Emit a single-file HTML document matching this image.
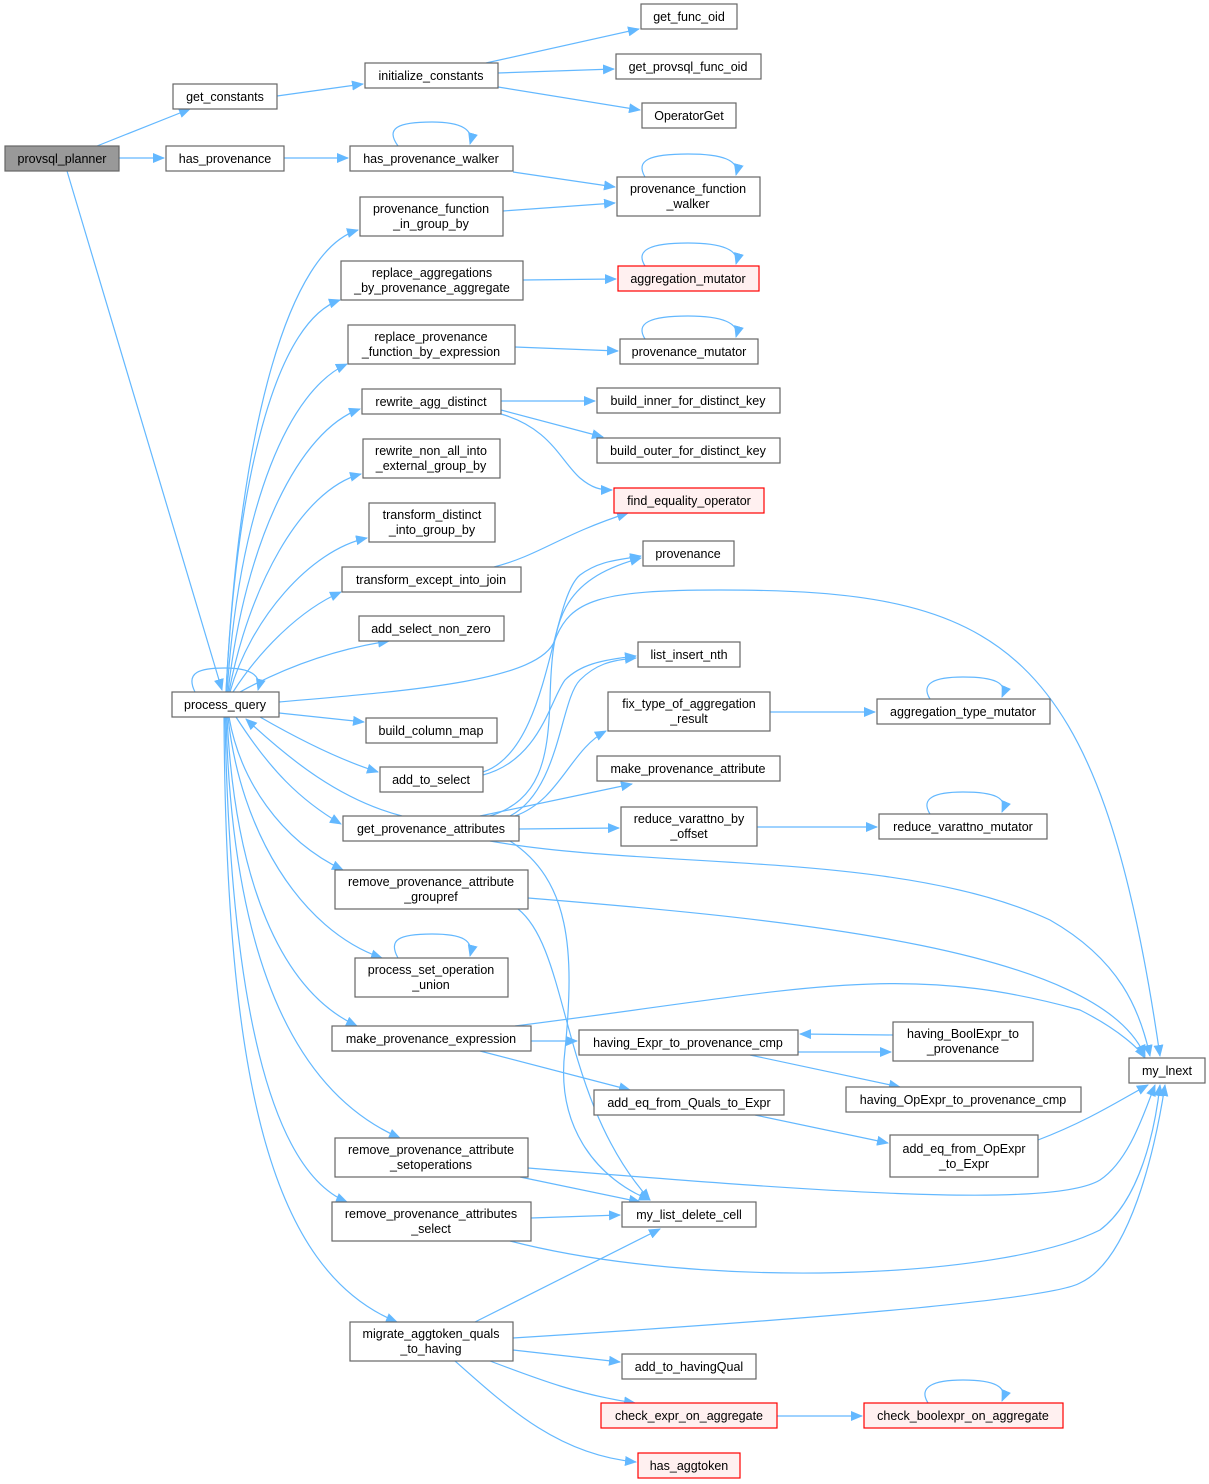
<!DOCTYPE html>
<html><head><meta charset="utf-8"><style>
html,body{margin:0;padding:0;background:#fff;}
svg{display:block;}
text{font-family:"Liberation Sans",Arial,sans-serif;font-size:12.5px;fill:#000;}
.n{fill:#fff;stroke:#666;stroke-width:1.2;}
.r{fill:#fff0f0;stroke:#f00;stroke-width:1.2;}
.g{fill:#999;stroke:#666;stroke-width:1.2;}
.e{fill:none;stroke:#63b8ff;stroke-width:1.2;marker-end:url(#a);}
</style></head><body>
<svg width="1209" height="1484" viewBox="0 0 1209 1484" xmlns="http://www.w3.org/2000/svg">
<defs><marker id="a" markerWidth="12" markerHeight="10" refX="11" refY="5" orient="auto" markerUnits="userSpaceOnUse"><path d="M0,0 L12,5 L0,10 z" fill="#63b8ff"/></marker></defs>
<g>
<path class="e" d="M97,146 L190,109"/>
<path class="e" d="M119,158 L164,158"/>
<path class="e" d="M67,171 L222,690"/>
<path class="e" d="M277,96 L363,84"/>
<path class="e" d="M486,63 L639,29"/>
<path class="e" d="M498,73 L614,69"/>
<path class="e" d="M498,87 L640,110"/>
<path class="e" d="M284,158 L348,158"/>
<path class="e" d="M398,146 C385,128 398,122 432,122 C462,122 474,130 470,144"/>
<path class="e" d="M513,172 L615,187"/>
<path class="e" d="M645,177 C635,160 650,154 688,154 C722,154 740,160 736,175"/>
<path class="e" d="M503,211 L615,203"/>
<path class="e" d="M523,280 L616,279"/>
<path class="e" d="M645,266 C635,250 650,243 688,243 C722,243 740,250 736,264"/>
<path class="e" d="M515,347 L618,351"/>
<path class="e" d="M645,339 C635,323 650,316 688,316 C722,316 740,323 736,337"/>
<path class="e" d="M501,401 L595,401"/>
<path class="e" d="M501,410 L603,437"/>
<path class="e" d="M501,414 C550,428 560,460 580,478 C592,488 600,490 612,490"/>
<path class="e" d="M494,567 C540,555 560,535 628,513"/>
<path class="e" d="M195,692 C185,672 200,668 225,668 C250,668 262,675 258,690"/>
<path class="e" d="M226,692 C240,420 290,250 358,230"/>
<path class="e" d="M226,692 C238,460 280,320 340,300"/>
<path class="e" d="M227,692 C240,500 290,390 347,364"/>
<path class="e" d="M228,692 C245,540 300,430 360,409"/>
<path class="e" d="M229,692 C248,590 300,490 361,474"/>
<path class="e" d="M230,692 C250,620 310,550 367,538"/>
<path class="e" d="M233,692 C260,650 300,610 341,592"/>
<path class="e" d="M240,692 C280,670 330,650 389,641"/>
<path class="e" d="M279,702 C420,690 540,680 555,640 C570,600 600,590 720,590 C1000,590 1100,640 1160,1056"/>
<path class="e" d="M279,713 L364,722"/>
<path class="e" d="M260,717 C300,740 340,760 378,772"/>
<path class="e" d="M236,717 C270,770 300,800 341,824"/>
<path class="e" d="M402,816 C340,800 290,760 246,719"/>
<path class="e" d="M229,717 C240,780 280,840 343,870"/>
<path class="e" d="M228,717 C240,830 300,930 382,958"/>
<path class="e" d="M227,717 C235,880 280,990 357,1026"/>
<path class="e" d="M226,717 C232,950 290,1090 400,1138"/>
<path class="e" d="M225,717 C230,1000 270,1170 347,1202"/>
<path class="e" d="M224,717 C226,1080 270,1270 397,1322"/>
<path class="e" d="M483,775 C540,760 550,700 565,680 C580,665 600,660 636,656"/>
<path class="e" d="M483,772 C550,750 550,600 580,575 C600,560 620,560 641,556"/>
<path class="e" d="M490,816 C540,800 548,760 550,700 C552,620 560,580 641,558"/>
<path class="e" d="M510,816 C560,790 560,700 580,680 C595,665 610,660 636,658"/>
<path class="e" d="M515,816 C560,800 570,750 606,731"/>
<path class="e" d="M480,816 L632,784"/>
<path class="e" d="M519,829 L619,828"/>
<path class="e" d="M490,841 C650,870 900,850 1050,920 C1120,960 1140,1010 1150,1056"/>
<path class="e" d="M510,841 C570,880 575,950 565,1050 C555,1130 600,1180 650,1200"/>
<path class="e" d="M770,712 L875,712"/>
<path class="e" d="M757,827 L877,827"/>
<path class="e" d="M930,699 C920,683 935,677 963,677 C995,677 1008,683 1002,697"/>
<path class="e" d="M930,814 C920,798 935,792 963,792 C995,792 1008,798 1002,812"/>
<path class="e" d="M398,958 C388,940 398,934 432,934 C462,934 474,940 470,956"/>
<path class="e" d="M528,898 C800,920 1100,950 1145,1056"/>
<path class="e" d="M518,909 C570,950 560,1100 650,1200"/>
<path class="e" d="M531,1041 L577,1041"/>
<path class="e" d="M480,1051 L630,1090"/>
<path class="e" d="M515,1026 C800,990 900,960 1080,1010 C1120,1030 1140,1050 1145,1058"/>
<path class="e" d="M798,1052 L891,1052"/>
<path class="e" d="M893,1035 L800,1034"/>
<path class="e" d="M750,1055 L900,1087"/>
<path class="e" d="M755,1115 L888,1143"/>
<path class="e" d="M1038,1140 C1090,1120 1120,1100 1148,1085"/>
<path class="e" d="M528,1168 C800,1190 1050,1210 1100,1180 C1130,1160 1145,1110 1155,1085"/>
<path class="e" d="M520,1177 L640,1202"/>
<path class="e" d="M531,1218 L620,1215"/>
<path class="e" d="M510,1241 C700,1290 1000,1280 1100,1230 C1140,1200 1155,1130 1160,1085"/>
<path class="e" d="M475,1322 L660,1229"/>
<path class="e" d="M513,1338 C800,1320 1050,1300 1080,1283 C1130,1260 1155,1150 1165,1085"/>
<path class="e" d="M513,1350 L620,1362"/>
<path class="e" d="M490,1361 C540,1380 580,1395 635,1403"/>
<path class="e" d="M455,1361 C510,1410 560,1455 636,1462"/>
<path class="e" d="M777,1416 L862,1416"/>
<path class="e" d="M928,1403 C918,1387 933,1380 963,1380 C995,1380 1008,1387 1002,1401"/>
</g>
<g>
<rect class="g" x="5" y="146" width="114" height="25"/><text x="62" y="163" text-anchor="middle">provsql_planner</text>
<rect class="n" x="173" y="84" width="104" height="25"/><text x="225" y="101" text-anchor="middle">get_constants</text>
<rect class="n" x="166" y="146" width="118" height="25"/><text x="225" y="163" text-anchor="middle">has_provenance</text>
<rect class="n" x="172" y="692" width="107" height="25"/><text x="225" y="709" text-anchor="middle">process_query</text>
<rect class="n" x="365" y="63" width="133" height="25"/><text x="431" y="80" text-anchor="middle">initialize_constants</text>
<rect class="n" x="350" y="146" width="163" height="25"/><text x="431" y="163" text-anchor="middle">has_provenance_walker</text>
<rect class="n" x="360" y="197" width="143" height="39"/><text x="431" y="213" text-anchor="middle">provenance_function</text><text x="431" y="228" text-anchor="middle">_in_group_by</text>
<rect class="n" x="341" y="261" width="182" height="39"/><text x="432" y="277" text-anchor="middle">replace_aggregations</text><text x="432" y="292" text-anchor="middle">_by_provenance_aggregate</text>
<rect class="n" x="348" y="325" width="167" height="39"/><text x="431" y="341" text-anchor="middle">replace_provenance</text><text x="431" y="356" text-anchor="middle">_function_by_expression</text>
<rect class="n" x="362" y="389" width="139" height="25"/><text x="431" y="406" text-anchor="middle">rewrite_agg_distinct</text>
<rect class="n" x="363" y="439" width="137" height="39"/><text x="431" y="455" text-anchor="middle">rewrite_non_all_into</text><text x="431" y="470" text-anchor="middle">_external_group_by</text>
<rect class="n" x="369" y="503" width="126" height="39"/><text x="432" y="519" text-anchor="middle">transform_distinct</text><text x="432" y="534" text-anchor="middle">_into_group_by</text>
<rect class="n" x="342" y="567" width="179" height="25"/><text x="431" y="584" text-anchor="middle">transform_except_into_join</text>
<rect class="n" x="359" y="616" width="145" height="25"/><text x="431" y="633" text-anchor="middle">add_select_non_zero</text>
<rect class="n" x="366" y="718" width="131" height="25"/><text x="431" y="735" text-anchor="middle">build_column_map</text>
<rect class="n" x="380" y="767" width="103" height="25"/><text x="431" y="784" text-anchor="middle">add_to_select</text>
<rect class="n" x="343" y="816" width="176" height="25"/><text x="431" y="833" text-anchor="middle">get_provenance_attributes</text>
<rect class="n" x="335" y="870" width="193" height="39"/><text x="431" y="886" text-anchor="middle">remove_provenance_attribute</text><text x="431" y="901" text-anchor="middle">_groupref</text>
<rect class="n" x="355" y="958" width="153" height="39"/><text x="431" y="974" text-anchor="middle">process_set_operation</text><text x="431" y="989" text-anchor="middle">_union</text>
<rect class="n" x="332" y="1026" width="199" height="25"/><text x="431" y="1043" text-anchor="middle">make_provenance_expression</text>
<rect class="n" x="335" y="1138" width="193" height="39"/><text x="431" y="1154" text-anchor="middle">remove_provenance_attribute</text><text x="431" y="1169" text-anchor="middle">_setoperations</text>
<rect class="n" x="332" y="1202" width="199" height="39"/><text x="431" y="1218" text-anchor="middle">remove_provenance_attributes</text><text x="431" y="1233" text-anchor="middle">_select</text>
<rect class="n" x="350" y="1322" width="163" height="39"/><text x="431" y="1338" text-anchor="middle">migrate_aggtoken_quals</text><text x="431" y="1353" text-anchor="middle">_to_having</text>
<rect class="n" x="641" y="4" width="96" height="25"/><text x="689" y="21" text-anchor="middle">get_func_oid</text>
<rect class="n" x="616" y="54" width="145" height="25"/><text x="688" y="71" text-anchor="middle">get_provsql_func_oid</text>
<rect class="n" x="642" y="103" width="94" height="25"/><text x="689" y="120" text-anchor="middle">OperatorGet</text>
<rect class="n" x="617" y="177" width="143" height="39"/><text x="688" y="193" text-anchor="middle">provenance_function</text><text x="688" y="208" text-anchor="middle">_walker</text>
<rect class="r" x="618" y="266" width="141" height="25"/><text x="688" y="283" text-anchor="middle">aggregation_mutator</text>
<rect class="n" x="620" y="339" width="138" height="25"/><text x="689" y="356" text-anchor="middle">provenance_mutator</text>
<rect class="n" x="597" y="388" width="183" height="25"/><text x="688" y="405" text-anchor="middle">build_inner_for_distinct_key</text>
<rect class="n" x="597" y="438" width="183" height="25"/><text x="688" y="455" text-anchor="middle">build_outer_for_distinct_key</text>
<rect class="r" x="614" y="488" width="150" height="25"/><text x="689" y="505" text-anchor="middle">find_equality_operator</text>
<rect class="n" x="643" y="541" width="91" height="25"/><text x="688" y="558" text-anchor="middle">provenance</text>
<rect class="n" x="638" y="642" width="102" height="25"/><text x="689" y="659" text-anchor="middle">list_insert_nth</text>
<rect class="n" x="608" y="692" width="162" height="39"/><text x="689" y="708" text-anchor="middle">fix_type_of_aggregation</text><text x="689" y="723" text-anchor="middle">_result</text>
<rect class="n" x="597" y="756" width="183" height="25"/><text x="688" y="773" text-anchor="middle">make_provenance_attribute</text>
<rect class="n" x="621" y="807" width="136" height="39"/><text x="689" y="823" text-anchor="middle">reduce_varattno_by</text><text x="689" y="838" text-anchor="middle">_offset</text>
<rect class="n" x="579" y="1030" width="219" height="25"/><text x="688" y="1047" text-anchor="middle">having_Expr_to_provenance_cmp</text>
<rect class="n" x="594" y="1090" width="190" height="25"/><text x="689" y="1107" text-anchor="middle">add_eq_from_Quals_to_Expr</text>
<rect class="n" x="622" y="1202" width="134" height="25"/><text x="689" y="1219" text-anchor="middle">my_list_delete_cell</text>
<rect class="n" x="622" y="1354" width="134" height="25"/><text x="689" y="1371" text-anchor="middle">add_to_havingQual</text>
<rect class="r" x="601" y="1403" width="176" height="25"/><text x="689" y="1420" text-anchor="middle">check_expr_on_aggregate</text>
<rect class="r" x="638" y="1453" width="102" height="25"/><text x="689" y="1470" text-anchor="middle">has_aggtoken</text>
<rect class="n" x="877" y="699" width="173" height="25"/><text x="963" y="716" text-anchor="middle">aggregation_type_mutator</text>
<rect class="n" x="879" y="814" width="168" height="25"/><text x="963" y="831" text-anchor="middle">reduce_varattno_mutator</text>
<rect class="n" x="893" y="1022" width="140" height="39"/><text x="963" y="1038" text-anchor="middle">having_BoolExpr_to</text><text x="963" y="1053" text-anchor="middle">_provenance</text>
<rect class="n" x="846" y="1087" width="235" height="25"/><text x="963" y="1104" text-anchor="middle">having_OpExpr_to_provenance_cmp</text>
<rect class="n" x="890" y="1135" width="148" height="42"/><text x="964" y="1153" text-anchor="middle">add_eq_from_OpExpr</text><text x="964" y="1168" text-anchor="middle">_to_Expr</text>
<rect class="r" x="864" y="1403" width="199" height="25"/><text x="963" y="1420" text-anchor="middle">check_boolexpr_on_aggregate</text>
<rect class="n" x="1129" y="1058" width="76" height="25"/><text x="1167" y="1075" text-anchor="middle">my_lnext</text>
</g>
</svg>
</body></html>
